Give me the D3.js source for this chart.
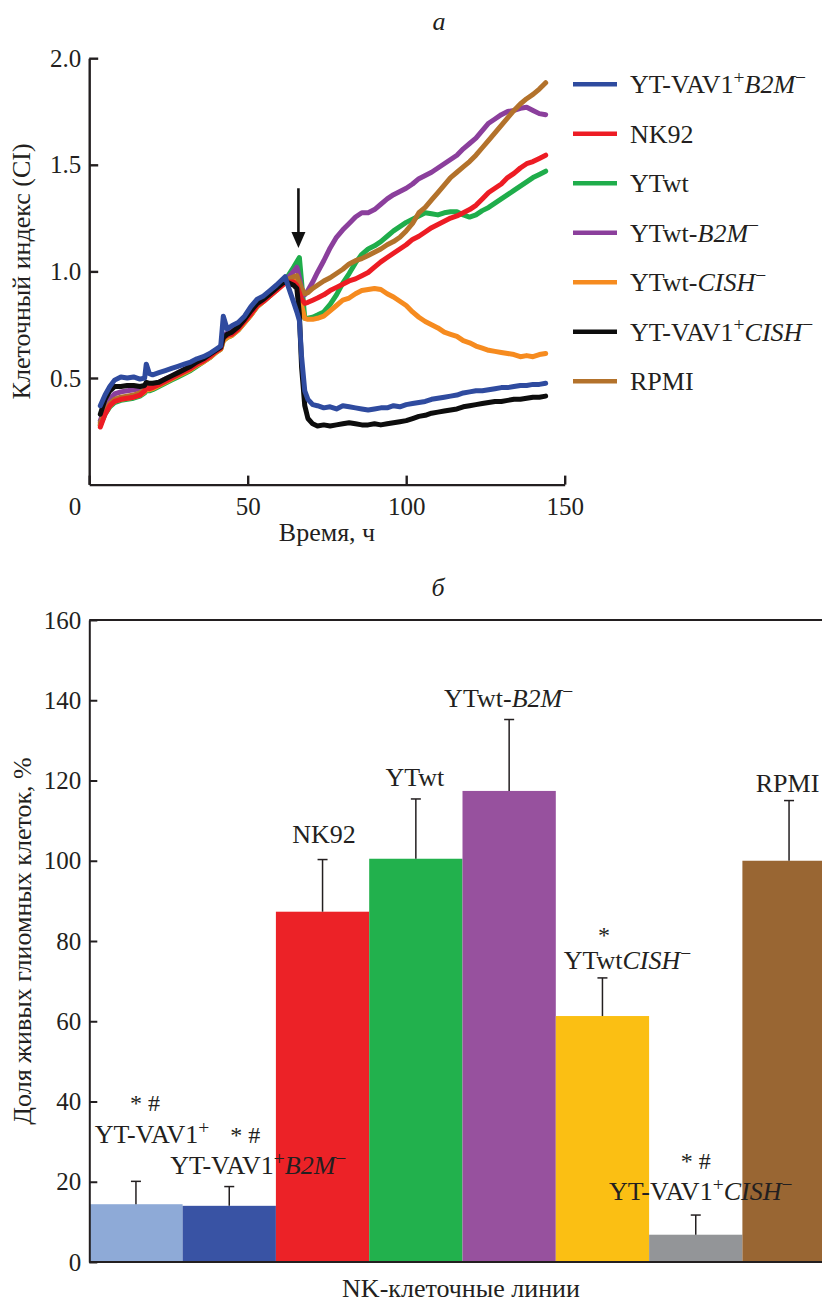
<!DOCTYPE html>
<html><head><meta charset="utf-8">
<script src="https://cdn.jsdelivr.net/npm/d3@7"></script>
<style>
body{margin:0;background:#fff}
svg{display:block}
text{font-family:"Liberation Serif","Times New Roman",serif;fill:#231f20}
</style>
</head><body>
<svg id="chart" width="822" height="1303"></svg>
<script>
// ---------------- DATA: panel a (cell index time courses) ----------------
const times = [3.5,5,6.5,8,10,12,14,16,17.5,18,19,20,22,24,26,28,30,32,34,36,38,40,41.5,42.3,43.5,45,47,49,51,53,55,57,59,61.8,63,64.5,65.5,66.3,67,68,69,70.5,
  72,74,76,78,80,82,84,86,88,90,92,94,96,98,100,102,104,106,108,110,112,114,116,118,120,122,124,126,128,130,132,134,136,138,140,142,144];

const vavB2M = [0.37,0.42,0.46,0.49,0.505,0.50,0.505,0.495,0.50,0.565,0.52,0.515,0.525,0.535,0.545,0.555,0.565,0.575,0.59,0.60,0.615,0.635,0.65,0.79,0.73,0.745,0.76,0.79,0.835,0.87,0.885,0.91,0.935,0.975,0.92,0.855,0.81,0.77,0.60,0.44,0.40,0.375,
  0.37,0.36,0.365,0.355,0.37,0.365,0.36,0.355,0.35,0.355,0.36,0.36,0.37,0.365,0.375,0.38,0.385,0.39,0.40,0.405,0.41,0.415,0.42,0.43,0.435,0.44,0.44,0.445,0.45,0.455,0.455,0.46,0.465,0.465,0.47,0.47,0.475];
const nk92 = [0.27,0.33,0.37,0.39,0.40,0.405,0.41,0.42,0.44,0.455,0.45,0.455,0.47,0.485,0.50,0.515,0.53,0.545,0.565,0.58,0.60,0.625,0.64,0.69,0.70,0.705,0.73,0.765,0.80,0.84,0.86,0.885,0.91,0.945,0.95,0.95,0.935,0.90,0.87,0.85,0.855,0.865,
  0.875,0.89,0.91,0.925,0.94,0.955,0.965,0.98,0.995,1.02,1.045,1.065,1.085,1.105,1.125,1.15,1.165,1.185,1.205,1.22,1.235,1.25,1.26,1.275,1.29,1.31,1.34,1.37,1.39,1.41,1.44,1.46,1.485,1.505,1.515,1.53,1.545];
const ytwt = [0.28,0.33,0.365,0.385,0.395,0.40,0.405,0.415,0.43,0.44,0.44,0.445,0.46,0.475,0.49,0.505,0.52,0.535,0.555,0.575,0.595,0.62,0.635,0.675,0.69,0.70,0.725,0.76,0.795,0.835,0.86,0.885,0.915,0.955,0.985,1.02,1.045,1.065,0.95,0.78,0.78,0.785,
  0.795,0.81,0.845,0.89,0.945,0.99,1.04,1.08,1.105,1.12,1.14,1.165,1.19,1.21,1.23,1.245,1.26,1.275,1.27,1.265,1.275,1.28,1.28,1.265,1.255,1.265,1.285,1.30,1.32,1.34,1.36,1.38,1.40,1.42,1.44,1.455,1.47];
const ytwtB2M = [0.30,0.36,0.40,0.425,0.435,0.44,0.445,0.45,0.46,0.47,0.465,0.47,0.48,0.495,0.51,0.525,0.54,0.555,0.575,0.59,0.61,0.63,0.645,0.70,0.71,0.72,0.745,0.78,0.82,0.855,0.875,0.90,0.925,0.96,0.975,1.0,1.02,0.97,0.92,0.89,0.91,0.95,
  0.995,1.05,1.11,1.16,1.195,1.225,1.255,1.275,1.275,1.29,1.315,1.34,1.36,1.375,1.39,1.41,1.435,1.45,1.465,1.485,1.505,1.525,1.545,1.575,1.60,1.625,1.66,1.695,1.715,1.735,1.75,1.755,1.765,1.77,1.755,1.74,1.735];
const ytwtCISH = [0.28,0.335,0.37,0.39,0.40,0.405,0.41,0.42,0.435,0.445,0.445,0.45,0.465,0.48,0.495,0.51,0.525,0.54,0.56,0.575,0.595,0.62,0.635,0.675,0.69,0.70,0.725,0.76,0.795,0.835,0.86,0.885,0.91,0.95,0.965,0.975,0.96,0.90,0.84,0.78,0.775,0.775,
  0.78,0.79,0.815,0.84,0.865,0.875,0.895,0.91,0.915,0.92,0.915,0.895,0.88,0.86,0.84,0.81,0.785,0.765,0.75,0.735,0.715,0.705,0.695,0.675,0.665,0.65,0.64,0.63,0.625,0.62,0.615,0.61,0.60,0.605,0.60,0.61,0.615];
const vavCISH = [0.33,0.40,0.44,0.46,0.46,0.465,0.465,0.46,0.465,0.48,0.475,0.475,0.48,0.495,0.51,0.525,0.54,0.555,0.575,0.59,0.61,0.63,0.645,0.69,0.705,0.715,0.74,0.775,0.815,0.85,0.87,0.895,0.92,0.955,0.945,0.935,0.92,0.80,0.55,0.37,0.31,0.285,
  0.275,0.28,0.275,0.28,0.285,0.29,0.285,0.28,0.28,0.285,0.28,0.285,0.29,0.295,0.30,0.31,0.32,0.325,0.335,0.34,0.345,0.35,0.355,0.365,0.37,0.375,0.38,0.385,0.39,0.39,0.395,0.40,0.40,0.405,0.41,0.41,0.415];
const rpmi = [0.29,0.34,0.38,0.40,0.41,0.415,0.42,0.43,0.445,0.455,0.455,0.46,0.47,0.485,0.50,0.515,0.53,0.545,0.565,0.58,0.60,0.625,0.64,0.685,0.70,0.71,0.735,0.77,0.805,0.845,0.865,0.89,0.915,0.955,0.965,0.975,0.98,0.95,0.92,0.895,0.90,0.92,
  0.935,0.955,0.97,0.99,1.01,1.035,1.05,1.06,1.075,1.09,1.105,1.125,1.14,1.16,1.19,1.225,1.275,1.30,1.335,1.37,1.405,1.44,1.465,1.49,1.515,1.545,1.58,1.615,1.65,1.685,1.72,1.755,1.785,1.81,1.83,1.855,1.885];

const lineLabels = ["YT-VAV1|s:+|i:B2M|s:−","NK92","YTwt","YTwt-|i:B2M|s:−","YTwt-|i:CISH|s:−","YT-VAV1|s:+|i:CISH|s:−","RPMI"];
const lineSeries = [vavB2M, nk92, ytwt, ytwtB2M, ytwtCISH, vavCISH, rpmi];
const lineColors = ["#2f4b9f","#ed1c24","#1fad4b","#8b3f9c","#f68b1f","#0d0d0d","#b3722b"];
const xTicksA = [0,50,100,150];
const yTicksA = [0.5,1.0,1.5,2.0];
const arrowTime = 66, arrowFrom = 1.39, arrowTo = 1.11;

// ---------------- DATA: panel б (bar chart) ----------------
const barCats = ["YT-VAV1|s:+","YT-VAV1|s:+|i:B2M|s:−","NK92","YTwt","YTwt-|i:B2M|s:−","YTwt|i:CISH|s:−","YT-VAV1|s:+|i:CISH|s:−","RPMI"];
const barValues = [14.4,14.0,87.3,100.5,117.4,61.3,6.8,100.0];
const barErrors = [5.7,4.8,13.0,14.9,17.8,9.5,4.9,15.0];
const barSignif = ["* #","* #","","","","*","* #",""];
const barColors = ["#8eaad7","#3953a4","#ec2227","#22b14d","#97519e","#fbbf13","#939598","#996633"];
const yTicksB = [0,20,40,60,80,100,120,140,160];

// ---------------- LAYOUT ----------------
const barLabelDx = [16,29,1.5,-1,-0.5,25,5,-1.5];
const barLabelDy = [-38,-12.6,-16.5,-13,-12.5,-9,-15,-8.6];
const starDx = [9,16,0,0,0,1.5,0,0];
const starDy = [-70,-43.6,0,0,0,-35,-46,0];

const INK = "#231f20";
const svg = d3.select("#chart");

function rich(textSel, markup, fs){
  const shift = fs*0.36;
  let raised = false;
  markup.split("|").forEach(p=>{
    let st="n", txt=p;
    if(p.startsWith("i:")){st="i";txt=p.slice(2);}
    else if(p.startsWith("s:")){st="s";txt=p.slice(2);}
    const ts = textSel.append("tspan").text(txt);
    if(st==="i") ts.attr("font-style","italic");
    if(st==="s"){ ts.attr("font-size",fs*0.75); if(!raised){ts.attr("dy",-shift);raised=true;} }
    else if(raised){ ts.attr("dy",shift); raised=false; }
  });
}

// ===== Panel a =====
const xA = d3.scaleLinear().domain([0,150]).range([89.2,564.7]);
const yA = d3.scaleLinear().domain([0,2]).range([484.6,58.2]);
const gA = svg.append("g");

const lineGen = d3.line().x((d,i)=>xA(times[i])).y(d=>yA(d));
const drawOrder = [2,4,3,6,1,5,0];
drawOrder.forEach(k=>{
  gA.append("path").datum(lineSeries[k]).attr("d",lineGen)
    .attr("fill","none").attr("stroke",lineColors[k]).attr("stroke-width",5)
    .attr("stroke-linejoin","round").attr("stroke-linecap","round");
});

const axXA = gA.append("g").attr("transform",`translate(0,${yA(0)})`)
  .call(d3.axisBottom(xA).tickValues(xTicksA).tickSizeInner(-9).tickSizeOuter(0).tickFormat(d3.format("d")));
const axYA = gA.append("g").attr("transform",`translate(${xA(0)},0)`)
  .call(d3.axisLeft(yA).tickValues(yTicksA).tickSizeInner(-9).tickSizeOuter(0).tickPadding(8).tickFormat(d3.format(".1f")));
[axXA,axYA].forEach(a=>{
  a.attr("font-size",25).attr("font-family",null);
  a.select(".domain").attr("stroke",INK).attr("stroke-width",2.4);
  a.selectAll(".tick line").attr("stroke",INK).attr("stroke-width",2.4);
  a.selectAll(".tick text").attr("fill",INK);
});
axXA.selectAll(".tick text").attr("y",30).attr("dy",null);
axXA.selectAll(".tick text").filter(d=>d===0).attr("x",-14.6);

// arrow
const ax = xA(arrowTime);
gA.append("line").attr("x1",ax).attr("x2",ax).attr("y1",yA(arrowFrom)).attr("y2",yA(arrowTo)-12)
  .attr("stroke","#111").attr("stroke-width",2.6);
gA.append("path").attr("d",`M${ax-7},${yA(arrowTo)-16}L${ax+7},${yA(arrowTo)-16}L${ax},${yA(arrowTo)}Z`).attr("fill","#111");

// titles
gA.append("text").attr("x",439).attr("y",30).attr("text-anchor","middle").attr("font-size",26).attr("font-style","italic").text("а");
gA.append("text").attr("x",327).attr("y",541).attr("text-anchor","middle").attr("font-size",26).text("Время, ч");
gA.append("text").attr("transform",`translate(30,${(yA(0)+yA(2))/2}) rotate(-90)`).attr("text-anchor","middle").attr("font-size",26).text("Клеточный индекс (CI)");

// legend
const leg = gA.append("g");
lineLabels.forEach((lab,i)=>{
  const y = 84.3 + i*49.5;
  leg.append("line").attr("x1",573).attr("x2",617).attr("y1",y).attr("y2",y).attr("stroke",lineColors[i]).attr("stroke-width",4.5);
  const t = leg.append("text").attr("x",630).attr("y",y+9).attr("font-size",26);
  rich(t,lab,26);
});

// ===== Panel б =====
const xB = d3.scaleBand().domain(barCats).range([89.3,89.3+8*93.3]).padding(0);
const yB = d3.scaleLinear().domain([0,160]).range([1262,620]);
const gB = svg.append("g");

gB.selectAll("rect.bar").data(barCats).join("rect").attr("class","bar")
  .attr("x",d=>xB(d)).attr("width",xB.bandwidth())
  .attr("y",(d,i)=>yB(barValues[i])).attr("height",(d,i)=>yB(0)-yB(barValues[i]))
  .attr("fill",(d,i)=>barColors[i]);

barCats.forEach((c,i)=>{
  const cx = xB(c)+xB.bandwidth()/2;
  const yTop = yB(barValues[i]+barErrors[i]);
  gB.append("line").attr("x1",cx).attr("x2",cx).attr("y1",yB(barValues[i])).attr("y2",yTop).attr("stroke",INK).attr("stroke-width",1.5);
  gB.append("line").attr("x1",cx-5).attr("x2",cx+5).attr("y1",yTop).attr("y2",yTop).attr("stroke",INK).attr("stroke-width",1.5);
  const t = gB.append("text").attr("x",cx+barLabelDx[i]).attr("y",yTop+barLabelDy[i]).attr("text-anchor","middle").attr("font-size",26);
  rich(t,c,26);
  if(barSignif[i]){
    gB.append("text").attr("x",cx+starDx[i]).attr("y",yTop+starDy[i]).attr("text-anchor","middle").attr("font-size",24).text(barSignif[i]);
  }
});

// frame lines
gB.append("line").attr("x1",xB.range()[0]).attr("x2",840).attr("y1",yB(160)).attr("y2",yB(160)).attr("stroke",INK).attr("stroke-width",2);
gB.append("line").attr("x1",xB.range()[0]).attr("x2",840).attr("y1",yB(0)).attr("y2",yB(0)).attr("stroke",INK).attr("stroke-width",2);
const axYB = gB.append("g").attr("transform",`translate(${xB.range()[0]},0)`)
  .call(d3.axisLeft(yB).tickValues(yTicksB).tickSizeInner(-8).tickSizeOuter(0).tickPadding(8).tickFormat(d3.format("d")));
axYB.attr("font-size",25).attr("font-family",null);
axYB.select(".domain").attr("stroke",INK).attr("stroke-width",2);
axYB.selectAll(".tick line").attr("stroke",INK).attr("stroke-width",2);
axYB.selectAll(".tick text").attr("fill",INK);

gB.append("text").attr("x",438).attr("y",596).attr("text-anchor","middle").attr("font-size",26).attr("font-style","italic").text("б");
gB.append("text").attr("x",461).attr("y",1297).attr("text-anchor","middle").attr("font-size",26).text("NK-клеточные линии");
gB.append("text").attr("transform",`translate(31,${(yB(0)+yB(160))/2}) rotate(-90)`).attr("text-anchor","middle").attr("font-size",26).text("Доля живых глиомных клеток, %");
</script>
</body></html>
